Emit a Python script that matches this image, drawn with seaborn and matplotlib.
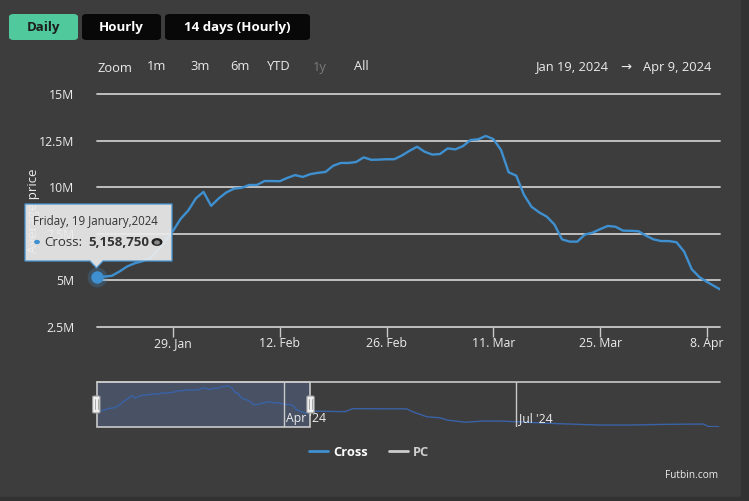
import pandas as pd
import matplotlib.pyplot as plt
import seaborn as sns
from matplotlib.patches import FancyBboxPatch, Polygon, Rectangle, Circle
from matplotlib.lines import Line2D

# Daily average price of the "Cross" card (in millions), Jan 19 -> Apr 9 2024
cross_dates = pd.date_range("2024-01-19", periods=81, freq="D").append(
    pd.DatetimeIndex(["2024-04-09 17:00"]))
cross_price = [
    5.16, 5.20, 5.25, 5.48, 5.75, 5.92, 6.03, 6.20, 6.60, 7.10,
    7.65, 8.30, 8.75, 9.40, 9.75, 9.00, 9.40, 9.72, 9.92, 9.97,
    10.12, 10.12, 10.33, 10.33, 10.32, 10.50, 10.65, 10.55, 10.70, 10.77,
    10.82, 11.15, 11.30, 11.30, 11.35, 11.60, 11.47, 11.48, 11.50, 11.50,
    11.70, 11.95, 12.17, 11.90, 11.75, 11.78, 12.08, 12.03, 12.20, 12.53,
    12.57, 12.75, 12.58, 12.00, 10.80, 10.62, 9.60, 8.95, 8.65, 8.42,
    8.00, 7.20, 7.08, 7.08, 7.46, 7.56, 7.75, 7.92, 7.88, 7.67,
    7.66, 7.64, 7.40, 7.20, 7.11, 7.11, 7.05, 6.55, 5.60, 5.18,
    4.92, 4.52,
]

# later part of the series, only visible in the navigator
later_dates = pd.to_datetime([
    "2024-04-14", "2024-04-25", "2024-04-28", "2024-05-19", "2024-05-22",
    "2024-05-27", "2024-06-01", "2024-06-04", "2024-06-11", "2024-06-18",
    "2024-06-24", "2024-07-01", "2024-07-14", "2024-08-02", "2024-08-15",
    "2024-08-28", "2024-09-12", "2024-09-14", "2024-09-18",
])
later_price = [5.10, 4.95, 5.85, 5.80, 4.75, 3.40, 3.10, 2.40, 1.75, 2.10,
               2.10, 1.90, 1.40, 0.90, 0.90, 1.10, 1.20, 0.45, 0.40]

y_ticks = [2.5, 5, 7.5, 10, 12.5, 15]
y_labels = ["2.5M", "5M", "7.5M", "10M", "12.5M", "15M"]
x_ticks = pd.to_datetime(["2024-01-29", "2024-02-12", "2024-02-26",
                          "2024-03-11", "2024-03-25", "2024-04-08"])
x_labels = ["29. Jan", "12. Feb", "26. Feb", "11. Mar", "25. Mar", "8. Apr"]
nav_ticks = pd.to_datetime(["2024-04-01", "2024-07-01"])
nav_labels = ["Apr '24", "Jul '24"]
buttons = ["Daily", "Hourly", "14 days (Hourly)"]
ranges = ["1m", "3m", "6m", "YTD", "1y", "All"]

BG = "#3d3d3d"
BLUE = "#3e90d0"
GRID = "#c9c9c9"
TXT = "#ececec"

sns.set_theme(style="dark", rc={"figure.facecolor": BG, "axes.facecolor": BG})
plt.rcParams["font.family"] = ["Open Sans", "DejaVu Sans"]

W, H = 749, 501
fig = plt.figure(figsize=(W / 100, H / 100), dpi=100)


def fx(x):
    return x / W


def fy(y):
    return 1 - y / H


# ---- main chart
ax = fig.add_axes([fx(96.7), fy(327), fx(720 - 96.7), (327 - 94) / H])
sns.lineplot(x=cross_dates, y=cross_price, ax=ax, color=BLUE, linewidth=1.7)
ax.set_ylim(2.5, 15)
ax.set_xlim(pd.Timestamp("2024-01-19"), pd.Timestamp("2024-04-09 17:00"))
ax.set_yticks(y_ticks, y_labels)
ax.set_xticks(x_ticks, x_labels)
ax.grid(axis="y", color=GRID, linewidth=1.3)
ax.grid(axis="x", visible=False)
for gl in ax.get_ygridlines():
    gl.set_clip_on(False)
for s in ax.spines.values():
    s.set_visible(False)
ax.tick_params(axis="y", length=0, pad=16, labelsize=8.8, labelcolor=TXT)
ax.tick_params(axis="x", length=7, width=1, color=GRID, direction="out",
               pad=0.5, labelsize=8.8, labelcolor=TXT, bottom=True)
for lab in ax.get_xticklabels() + ax.get_yticklabels():
    lab.set_fontweight("medium")
ax.set_xlabel("")
ax.set_ylabel("")

# highlighted first point
ax.scatter([cross_dates[0]], [cross_price[0]], s=200, color=BLUE, alpha=0.25,
           clip_on=False, zorder=5, linewidths=0)
ax.scatter([cross_dates[0]], [cross_price[0]], s=80, color=BLUE,
           clip_on=False, zorder=6, linewidths=0)

fig.text(fx(33), fy(211), "Average price", rotation=90, ha="center",
         va="center", color=TXT, fontsize=9.5)

# ---- tooltip
tip = [(25, 204), (172, 204), (172, 261), (103, 261), (96.5, 268),
       (90, 261), (25, 261)]
fig.add_artist(Polygon([(fx(a), fy(b)) for a, b in tip], closed=True,
                       facecolor="#ececec", alpha=0.92, edgecolor="#4a93cf",
                       linewidth=1, transform=fig.transFigure, zorder=10))
fig.text(fx(33), fy(222), "Friday, 19 January,2024", color="#333333",
         fontsize=8.3, va="center", zorder=11)
fig.add_artist(Circle((fx(37), fy(242)), 2.2 / W, color=BLUE,
                      transform=fig.transFigure, zorder=11))
fig.text(fx(44), fy(242), "Cross:", color="#333333", fontsize=9.5,
         va="center", zorder=11)
fig.text(fx(88), fy(242), "5,158,750", color="#333333", fontsize=9.5,
         fontweight="bold", va="center", zorder=11)
fig.add_artist(Circle((fx(157), fy(242)), 4.8 / W, color="#222222",
                      transform=fig.transFigure, zorder=11))
fig.add_artist(Circle((fx(157), fy(242.5)), 2.2 / W, color="#8a8a8a",
                      transform=fig.transFigure, zorder=12))

# ---- top buttons
btn_box = [(9, 78), (82, 161), (165, 310)]
for (x0, x1), lab in zip(btn_box, buttons):
    active = lab == "Daily"
    fig.add_artist(FancyBboxPatch(
        (fx(x0), fy(40)), fx(x1 - x0), 26 / H,
        boxstyle="round,pad=0,rounding_size=0.006",
        facecolor="#50c99c" if active else "#080808", edgecolor="none",
        transform=fig.transFigure))
    fig.text(fx((x0 + x1) / 2), fy(27), lab, ha="center", va="center",
             fontsize=9.5, fontweight="bold",
             color="#1d1d1d" if active else "white")

# range selector
fig.text(fx(97), fy(68), "Zoom", fontsize=9.3, color=TXT, va="center")
for lab, xc in zip(ranges, [157, 200, 240, 279, 320, 361]):
    fig.text(fx(xc), fy(67), lab, ha="center", va="center", fontsize=9.3,
             color="#7a7a7a" if lab == "1y" else TXT)
fig.text(fx(609), fy(67), "Jan 19, 2024", ha="right", va="center",
         fontsize=9.3, color=TXT)
fig.text(fx(626), fy(67), "→", ha="center", va="center", fontsize=9.5,
         color=TXT, family="DejaVu Sans")
fig.text(fx(643), fy(67), "Apr 9, 2024", ha="left", va="center",
         fontsize=9.3, color=TXT)

# ---- navigator
nav = fig.add_axes([fx(96.7), fy(427), fx(720 - 96.7), 45 / H])
nav_dates = cross_dates.append(later_dates)
nav_price = cross_price + later_price
sns.lineplot(x=nav_dates, y=nav_price, ax=nav, color="#3a62a6", linewidth=1)
nav.set_ylim(0.3, 13.94)
nav.set_xlim(pd.Timestamp("2024-01-19"), pd.Timestamp("2024-09-18 12:00"))
nav.set_xticks([])
nav.set_yticks([])
nav.set_xlabel("")
nav.set_ylabel("")
for s in nav.spines.values():
    s.set_visible(False)
nav.axhline(13.94, color=GRID, linewidth=1.2, clip_on=False)
for t, lab in zip(nav_ticks, nav_labels):
    nav.axvline(t, color=GRID, linewidth=1)
    nav.text(t + pd.Timedelta(days=1), 3.0, lab, color=TXT, fontsize=8.8,
             va="center", ha="left")
sel_end = pd.Timestamp("2024-04-11 12:00")
nav.axvspan(pd.Timestamp("2024-01-19"), sel_end, color=(0.4, 0.52, 0.76),
            alpha=0.3, linewidth=0)
nav.add_patch(Rectangle((pd.Timestamp("2024-01-19"), 0.3),
                        sel_end - pd.Timestamp("2024-01-19"), 13.64,
                        fill=False, edgecolor=GRID, linewidth=1.2,
                        clip_on=False))
for hx in [96.3, 310.5]:
    fig.add_artist(FancyBboxPatch(
        (fx(hx - 3.7), fy(413)), fx(7.4), 17 / H,
        boxstyle="round,pad=0,rounding_size=0.002",
        facecolor="#f0f0f0", edgecolor="#9a9a9a", linewidth=0.8,
        transform=fig.transFigure, zorder=5))
    for dx in (-1.2, 1.2):
        fig.add_artist(Line2D([fx(hx + dx)] * 2, [fy(399), fy(409)],
                              color="#9a9a9a", linewidth=0.6,
                              transform=fig.transFigure, zorder=6))

# ---- legend
handles = [Line2D([], [], color=BLUE, linewidth=2),
           Line2D([], [], color="#cccccc", linewidth=2)]
leg = fig.legend(handles, ["Cross", "PC"], loc="center",
                 bbox_to_anchor=(fx(369), fy(452)), ncol=2, frameon=False,
                 handlelength=1.5, handletextpad=0.4, columnspacing=1.6,
                 prop={"weight": "bold", "size": 9.3})
leg.get_texts()[0].set_color("white")
leg.get_texts()[1].set_color("#d0d0d0")

fig.text(fx(718), fy(475), "Futbin.com", ha="right", va="center",
         fontsize=7.3, color=TXT)

# outer frame strips
fig.add_artist(Rectangle((fx(741), 0), fx(8), 1, color="#323232",
                         transform=fig.transFigure, zorder=0))
fig.add_artist(Rectangle((0, 0), 1, 4 / H, color="#323232",
                         transform=fig.transFigure, zorder=0))

fig.savefig("out.png", dpi=100, facecolor=BG)
